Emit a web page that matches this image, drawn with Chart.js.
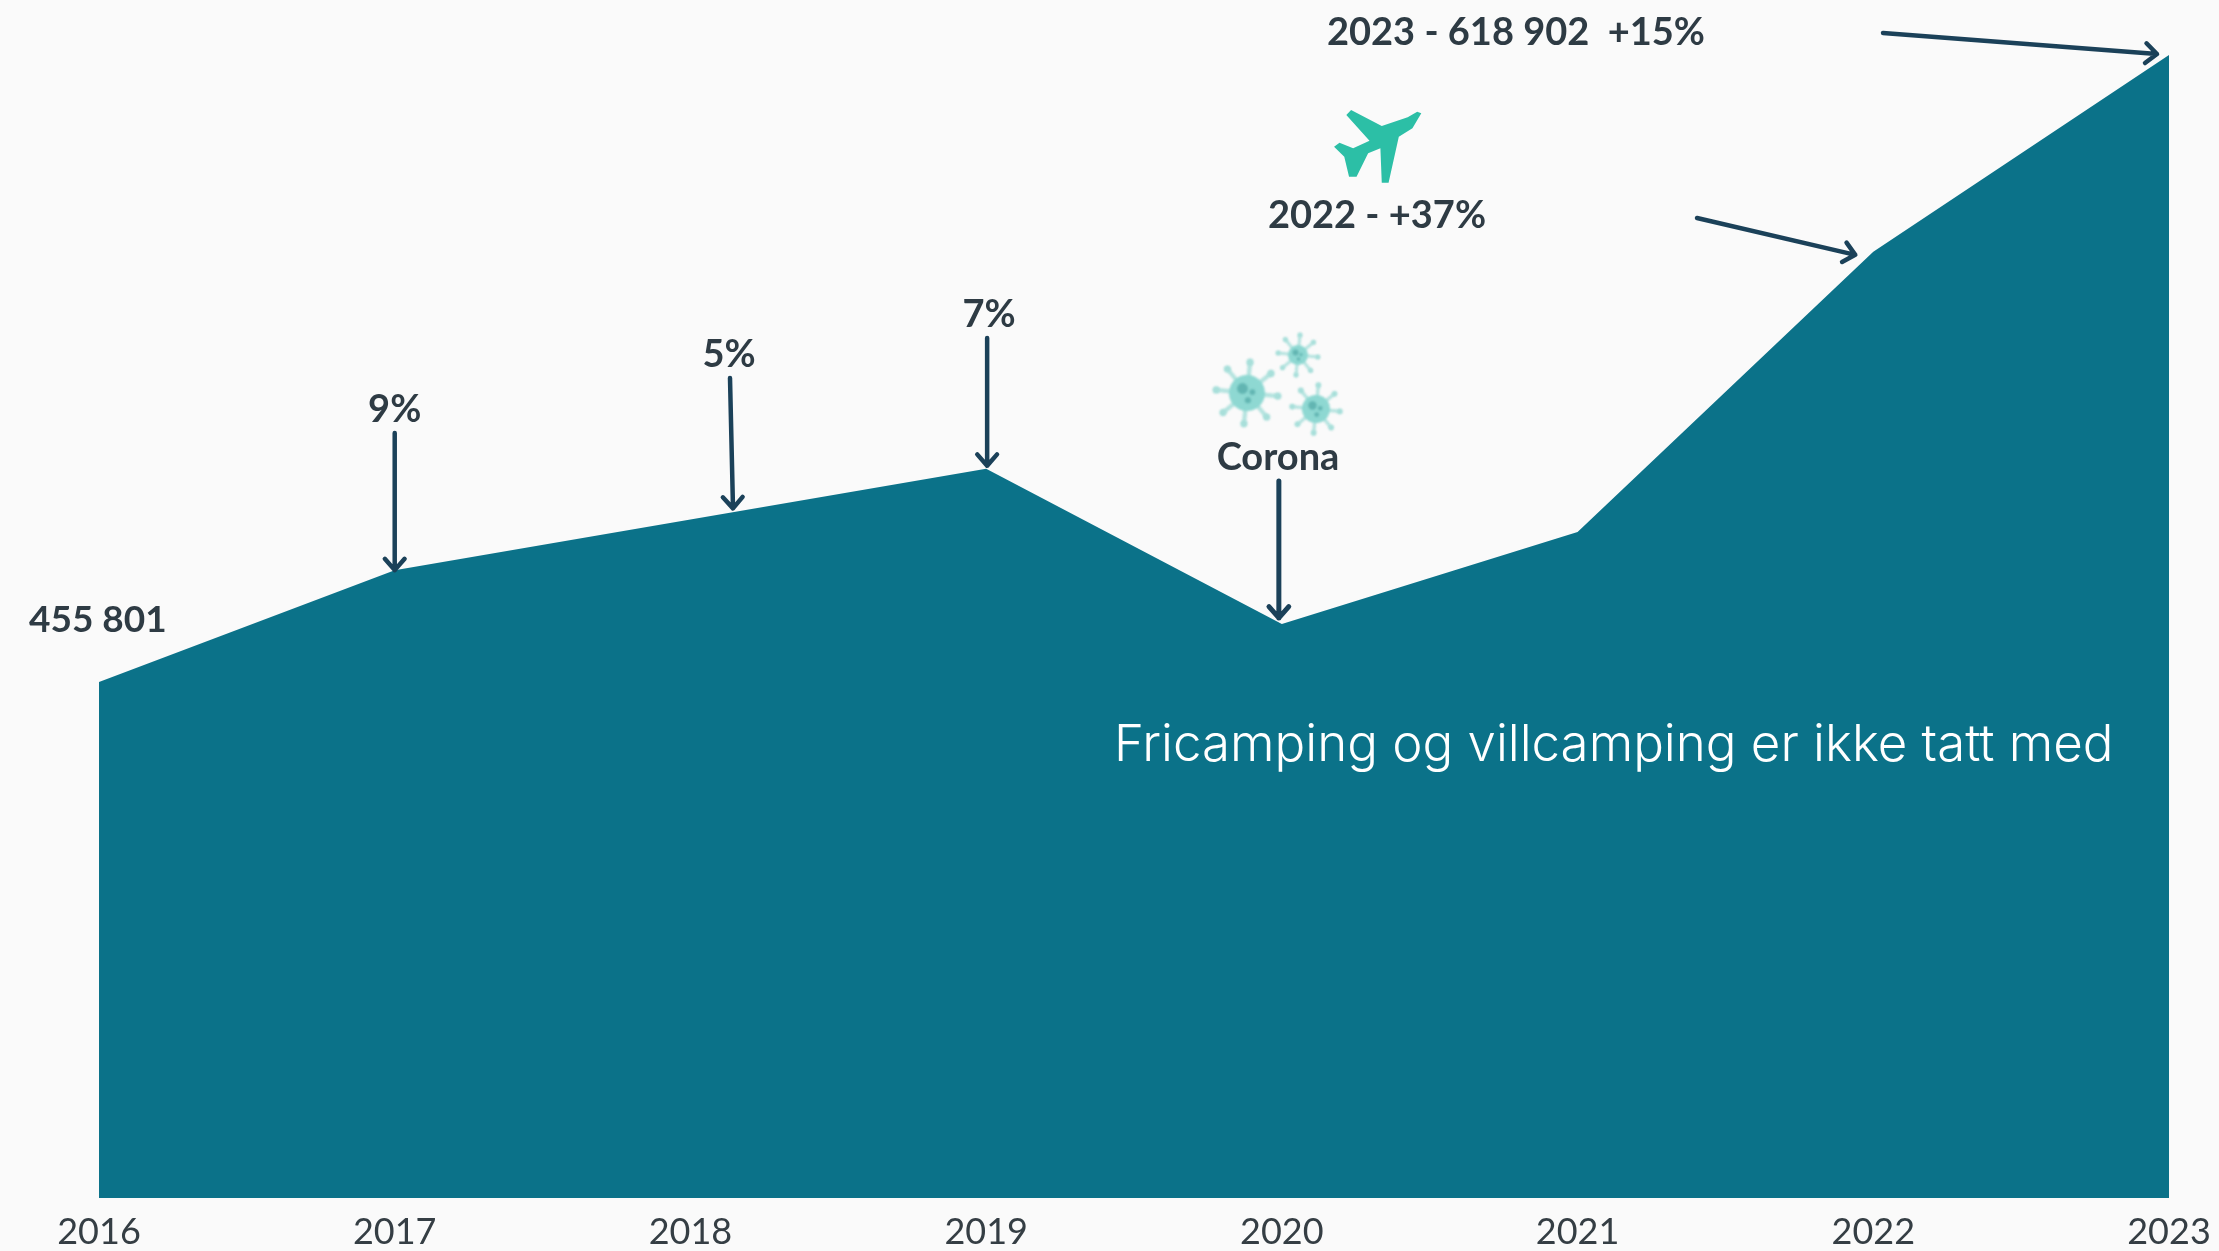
<!DOCTYPE html>
<html><head><meta charset="utf-8">
<style>html,body{margin:0;padding:0;background:#fafafa;overflow:hidden}canvas{display:block}</style>
<script src="https://cdn.jsdelivr.net/npm/chart.js@4"></script>
</head><body><canvas id="c" width="2219" height="1251"></canvas>
<script>
const years = ['2016','2017','2018','2019','2020','2021','2022','2023'];
const visitors = [455801,484900,498100,511300,470900,494800,567700,618902];
const calloutTexts = ['455 801','9%','5%','7%','Corona','2022 - +37%','2023 - 618 902  +15%'];
const noteText = 'Fricamping og villcamping er ikke tatt med';

const INK='#2e3b44', ARROW='#1b4159', FONT='Lato, sans-serif';
function arrow(ctx,x1,y1,x2,y2,w){
  const a=Math.atan2(y2-y1,x2-x1),h=15;
  ctx.save();ctx.strokeStyle=ARROW;ctx.lineWidth=w||4.5;ctx.lineCap='round';ctx.lineJoin='round';
  ctx.beginPath();ctx.moveTo(x1,y1);ctx.lineTo(x2,y2);
  ctx.moveTo(x2-h*Math.cos(a-0.72),y2-h*Math.sin(a-0.72));ctx.lineTo(x2,y2);
  ctx.lineTo(x2-h*Math.cos(a+0.72),y2-h*Math.sin(a+0.72));ctx.stroke();ctx.restore();
}
function label(ctx,t,x,y,align,size){
  ctx.save();ctx.fillStyle=INK;ctx.font='700 '+(size||38)+'px '+FONT;ctx.textAlign=align||'center';ctx.textBaseline='middle';
  ctx.fillText(t,x,y+1);ctx.restore();
}
function virus(ctx,cx,cy,r,R){
  ctx.save();ctx.filter='blur(0.8px)';
  ctx.strokeStyle='#b4e3df';ctx.fillStyle='#a8dfda';ctx.lineWidth=Math.max(3,r*0.24);ctx.lineCap='round';
  for(let i=0;i<8;i++){const a=i*Math.PI/4+0.1,x=cx+R*Math.cos(a),y=cy+R*Math.sin(a);
    ctx.beginPath();ctx.moveTo(cx,cy);ctx.lineTo(x,y);ctx.stroke();
    ctx.beginPath();ctx.arc(x,y,Math.max(2.5,r*0.2),0,7);ctx.fill();}
  ctx.fillStyle='#8ed8d2';ctx.beginPath();ctx.arc(cx,cy,r,0,7);ctx.fill();
  ctx.fillStyle='#62b5b2';
  [[-.25,-.25,.3],[.3,-.05,.16],[.05,.4,.17]].forEach(p=>{ctx.beginPath();ctx.arc(cx+p[0]*r,cy+p[1]*r,p[2]*r,0,7);ctx.fill();});
  ctx.restore();
}
function plane(ctx){
  const P=[[398,340],[385,385],[365,410],[350,548],[340,548],[338,445],[320,460],[303,530],[292,530],[285,470],[270,440],[278,428],[298,445],[322,422],[288,345],[295,330],[340,378],[378,352],[392,335]];
  ctx.save();ctx.fillStyle='#2cbfa6';ctx.beginPath();
  P.forEach((p,i)=>{const x=1150+p[0]/1.467,y=p[1]/3;i?ctx.lineTo(x,y):ctx.moveTo(x,y);});
  ctx.closePath();ctx.fill();ctx.restore();
}
const annotations={id:'annotations',afterDatasetsDraw(ch){
  const c=ch.ctx,X=i=>ch.scales.x.getPixelForValue(i),Y=i=>ch.scales.y.getPixelForValue(visitors[i]);
  label(c,calloutTexts[0],29,619,'left',37);
  label(c,calloutTexts[1],X(1),409);
  arrow(c,X(1),433,X(1),Y(1));
  label(c,calloutTexts[2],729,354);
  arrow(c,730,378,733,Y(2)-11);
  label(c,calloutTexts[3],989,314);
  arrow(c,X(3)+1,338,X(3)+1,Y(3)-3);
  label(c,calloutTexts[4],1278,457);
  arrow(c,X(4)-3,481,X(4)-3,Y(4)-6,5);
  label(c,calloutTexts[5],1377,215);
  arrow(c,1697,218,X(6)-18,Y(6)+3);
  label(c,calloutTexts[6],1516,32);
  arrow(c,1883,33,X(7)-12,Y(7)-1);
  plane(c);
  virus(c,1247,393,18,31);virus(c,1298,355,10,20);virus(c,1316,409,14,24);
  c.save();c.fillStyle='#ffffff';c.font='300 51px Inter, sans-serif';c.textAlign='left';c.textBaseline='middle';
  c.fillText(noteText,1114,746);c.restore();
}};
Chart.defaults.font.family=FONT;
new Chart(document.getElementById('c'),{
  type:'line',
  data:{labels:years,datasets:[{data:visitors,fill:'start',backgroundColor:'#0b7289',borderColor:'#0b7289',borderWidth:0,pointRadius:0,tension:0}]},
  options:{responsive:false,animation:false,events:[],
    layout:{padding:{left:99,right:50,top:0,bottom:0}},
    plugins:{legend:{display:false},tooltip:{enabled:false},title:{display:false}},
    scales:{
      y:{display:false,min:321571,max:633210},
      x:{afterFit(s){s.height=53;s.paddingLeft=0;s.paddingRight=0;},grid:{display:false,drawTicks:false},border:{display:false},
         ticks:{color:'#353e44',font:{size:36},padding:13,maxRotation:0,autoSkip:false}}
    }},
  plugins:[annotations]
});
</script></body></html>
